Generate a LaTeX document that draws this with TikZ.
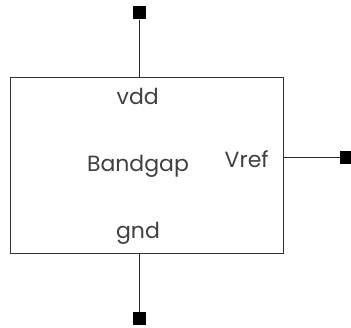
\documentclass[tikz,border=0pt]{standalone}
\usepackage{fontspec}
\setmainfont{Poppins}
\usepackage{tikz}
\usetikzlibrary{calc}

\begin{document}
\begin{tikzpicture}[
    x=1pt, y=1pt,
    every node/.style={font=\fontsize{22}{24}\selectfont, text=black!75},
    block/.style={draw=black!80, line width=1pt, minimum width=272.6pt, minimum height=176.3pt, inner sep=0pt},
    pinsq/.style={fill=black, draw=none, minimum size=13pt, inner sep=0pt},
    wire/.style={line width=1pt, draw=black!85}
]
\useasboundingbox (0,0) rectangle (351,328);

% Middle: the block
\node[block] (bandgap) at (147,162.2) {};
\node (name) at (138,161.3) {Bandgap};

% Pin labels inside the block
\node (vdd) at (137.7,232) {vdd};
\node (gnd) at (138,95) {gnd};
\node (vref) at (246.7,169) {Vref};

% Pins
\node[pinsq] (pvdd) at (139,315) {};
\node[pinsq] (pgnd) at (139,9.7) {};
\node[pinsq] (pvref) at (346.5,170.7) {};

\draw[wire] (pvdd.south) -- (pvdd.south |- bandgap.north);
\draw[wire] (pgnd.north) -- (pgnd.north |- bandgap.south);
\draw[wire] (pvref.west) -- (pvref.west -| bandgap.east);

\end{tikzpicture}
\end{document}
